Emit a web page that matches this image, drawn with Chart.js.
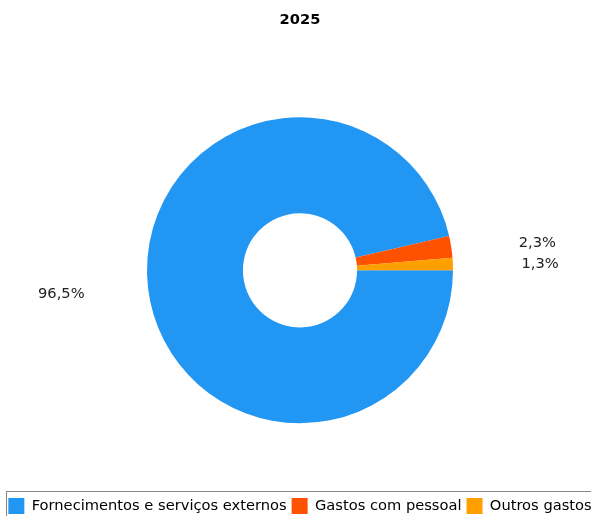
<!DOCTYPE html>
<html>
<head>
<meta charset="utf-8">
<script src="https://cdn.jsdelivr.net/npm/chart.js@4"></script>
<style>
  body { margin: 0; background: #fff; overflow: hidden; }
  canvas { margin-left: -5px; display: block; }
</style>
</head>
<body>
<canvas id="myChart" width="610" height="516"></canvas>
<script>
const categories = ['Fornecimentos e serviços externos', 'Gastos com pessoal', 'Outros gastos'];
const shares = [96.5, 2.3, 1.3];
const colors = ['#2196F3', '#FF5200', '#FF9F00'];
const chartTitle = '2025';

// percentage labels outside the ring
const outsideLabels = {
    id: 'outsideLabels',
    afterDatasetsDraw(chart) {
        const ctx = chart.ctx;
        const arcs = chart.getDatasetMeta(0).data;
        let pos = arcs.map((arc, i) => {
            const mid = (arc.startAngle + arc.endAngle) / 2;
            const r = arc.outerRadius * 1.57;
            return {
                x: arc.x + Math.cos(mid) * r,
                y: arc.y + 2 + Math.sin(mid) * r * 0.8,
                text: shares[i].toFixed(1).replace('.', ',') + '%'
            };
        });
        ctx.save();
        ctx.font = '14.67px "DejaVu Sans"';
        ctx.fillStyle = '#222';
        ctx.textAlign = 'center';
        ctx.textBaseline = 'middle';
        pos.forEach(p => ctx.fillText(p.text, p.x, p.y));
        ctx.restore();
    }
};

// border round the legend
const legendBorder = {
    id: 'legendBorder',
    afterDraw(chart) {
        const boxes = chart.legend.legendHitBoxes;
        if (!boxes.length) return;
        const left = Math.min(...boxes.map(b => b.left)) - 2;
        const right = Math.max(...boxes.map(b => b.left + b.width)) + 5;
        const top = Math.min(...boxes.map(b => b.top)) - 7;
        const ctx = chart.ctx;
        ctx.save();
        ctx.strokeStyle = '#888';
        ctx.lineWidth = 1;
        ctx.strokeRect(Math.round(left) + 0.5, Math.round(top) + 0.5, Math.round(right - left), 60);
        ctx.restore();
    }
};

const data = {
    labels: categories,
    datasets: [{
        data: shares,
        backgroundColor: colors,
        borderWidth: 0
    }]
};

const config = {
    type: 'doughnut',
    data: data,
    options: {
        responsive: false,
        animation: false,
        rotation: 90,
        radius: 153,
        cutout: '37.3%',
        layout: { padding: { bottom: -8 } },
        plugins: {
            title: {
                display: true,
                text: chartTitle,
                color: '#000',
                font: { family: 'DejaVu Sans', size: 14.67, weight: 'bold' },
                padding: { top: 11, bottom: 19 }
            },
            legend: {
                position: 'bottom',
                labels: {
                    color: '#000',
                    boxWidth: 16,
                    boxHeight: 16,
                    padding: 5,
                    font: { family: 'DejaVu Sans', size: 14.67 }
                }
            },
            tooltip: { enabled: false }
        }
    },
    plugins: [outsideLabels, legendBorder]
};

const myChart = new Chart(document.getElementById('myChart'), config);
</script>
</body>
</html>
